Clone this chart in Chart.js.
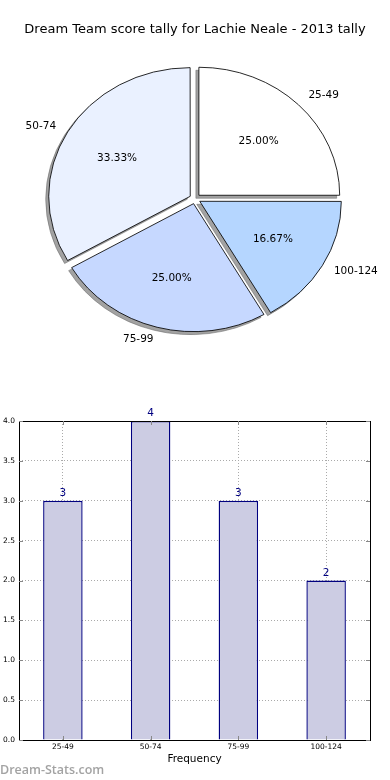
<!DOCTYPE html>
<html>
<head>
<meta charset="utf-8">
<script src="https://cdn.jsdelivr.net/npm/chart.js@4/dist/chart.umd.min.js"></script>
<style>
body{margin:0;background:#fff;width:390px;height:780px;overflow:hidden;position:relative;}
#pieBox{position:absolute;left:0;top:0;width:390px;height:400px;}
#barBox{position:absolute;left:0;top:400px;width:390px;height:380px;}
#mark{position:absolute;left:0;top:761px;font-family:'Open Sans',sans-serif;font-weight:600;font-size:12.5px;color:#a3a3a3;}
</style>
</head>
<body>
<div id="pieBox"><canvas id="pieChart" width="390" height="400"></canvas></div>
<div id="barBox"><canvas id="barChart" width="390" height="380"></canvas></div>
<div id="mark">Dream-Stats.com</div>
<script>
var chartTitle="Dream Team score tally for Lachie Neale - 2013 tally";
var categories=['25-49','50-74','75-99','100-124'];
var counts=[3,4,3,2];
var sliceColors=['#ffffff','#eaf1ff','#c6d8ff','#b5d6ff'];
var yTicks=[0,0.5,1,1.5,2,2.5,3,3.5,4];

var stretch=1.1;   // pie was drawn as an ellipse
var explode=5;     // px, chart.js divides arc offset by 4
var labelFont="10.5px 'DejaVu Sans'";

// matplotlib goes counter clockwise from 3 o'clock, chart.js clockwise -> reverse
var order=[3,2,1,0];
var total=counts.reduce(function(a,b){return a+b;},0);

function pieCenter(chart){
    var a=chart.getDatasetMeta(0).data[0];
    return {x:a.x,y:a.y};
}

var pieDecor={
    id:'pieDecor',
    beforeDatasetsDraw:function(chart){
        var ctx=chart.ctx, c=pieCenter(chart);
        // shadow pass
        ctx.save();
        ctx.translate(-3,3);
        ctx.translate(c.x,c.y);ctx.scale(stretch,1);ctx.translate(-c.x,-c.y);
        chart.getDatasetMeta(0).data.forEach(function(el){
            var o=el.options, bg=o.backgroundColor, bc=o.borderColor;
            o.backgroundColor='rgba(100,100,100,0.6)';
            o.borderColor='rgba(100,100,100,0.6)';
            el.draw(ctx);
            o.backgroundColor=bg;o.borderColor=bc;
        });
        ctx.restore();
        ctx.save();
        ctx.translate(c.x,c.y);ctx.scale(stretch,1);ctx.translate(-c.x,-c.y);
    },
    afterDatasetsDraw:function(chart){
        var ctx=chart.ctx;
        ctx.restore();
        ctx.save();
        ctx.font=labelFont;
        ctx.fillStyle='#000';
        ctx.textBaseline='middle';
        chart.getDatasetMeta(0).data.forEach(function(el,i){
            var p=el.getProps(['x','y','startAngle','endAngle','outerRadius']);
            var mid=(p.startAngle+p.endAngle)/2;
            var cs=Math.cos(mid), sn=Math.sin(mid);
            var cx=p.x+cs*explode*stretch, cy=p.y+sn*explode;
            var k=order[i];
            ctx.textAlign=cs>0?'left':'right';
            ctx.fillText(categories[k],cx+cs*1.1*p.outerRadius*stretch,cy+sn*1.1*p.outerRadius);
            ctx.textAlign='center';
            ctx.fillText((counts[k]/total*100).toFixed(2)+'%',cx+cs*0.6*p.outerRadius*stretch,cy+sn*0.6*p.outerRadius);
        });
        ctx.restore();
    }
};

new Chart(document.getElementById('pieChart'),{
    type:'pie',
    data:{
        labels:order.map(function(k){return categories[k];}),
        datasets:[{
            data:order.map(function(k){return counts[k];}),
            backgroundColor:order.map(function(k){return sliceColors[k];}),
            borderColor:'#000',
            borderWidth:0.8,
            offset:explode*4
        }]
    },
    options:{
        responsive:false,
        animation:false,
        events:[],
        rotation:90,
        radius:128,
        layout:{padding:{top:0,bottom:50,left:0,right:0}},
        plugins:{
            legend:{display:false},
            tooltip:{enabled:false},
            title:{display:true,text:chartTitle,color:'#000',
                font:{family:'DejaVu Sans',size:13,weight:'normal'},
                padding:{top:22,bottom:10}}
        }
    },
    plugins:[pieDecor]
});

var barDecor={
    id:'barDecor',
    afterDatasetsDraw:function(chart){
        var ctx=chart.ctx;
        ctx.save();
        ctx.font="10.5px 'DejaVu Sans'";
        ctx.fillStyle='#000080';
        ctx.textAlign='center';
        ctx.textBaseline='bottom';
        chart.getDatasetMeta(0).data.forEach(function(el,i){
            ctx.fillText(String(counts[i]),el.x,el.y-2);
        });
        ctx.restore();
    },
    afterDraw:function(chart){
        var ctx=chart.ctx, a=chart.chartArea, xs=chart.scales.x, ys=chart.scales.y;
        ctx.save();
        ctx.strokeStyle='#000';
        ctx.lineWidth=1;
        ctx.strokeRect(Math.round(a.left)+0.5,Math.round(a.top)+0.5,Math.round(a.right-a.left),Math.round(a.bottom-a.top));
        ctx.beginPath();
        yTicks.forEach(function(v){
            var y=Math.round(ys.getPixelForValue(v))+0.5;
            ctx.moveTo(a.left,y);ctx.lineTo(a.left+4,y);
            ctx.moveTo(a.right,y);ctx.lineTo(a.right-4,y);
        });
        categories.forEach(function(c,i){
            var x=Math.round(xs.getPixelForValue(i))+0.5;
            ctx.moveTo(x,a.bottom);ctx.lineTo(x,a.bottom-4);
            ctx.moveTo(x,a.top);ctx.lineTo(x,a.top+4);
        });
        ctx.strokeStyle='#888';
        ctx.stroke();
        ctx.restore();
    }
};

new Chart(document.getElementById('barChart'),{
    type:'bar',
    data:{
        labels:categories,
        datasets:[{
            data:counts,
            backgroundColor:'#ccccE3',
            borderColor:'#000080',
            borderWidth:1.4,
            borderSkipped:'bottom',
            barPercentage:0.45,
            categoryPercentage:1
        }]
    },
    options:{
        responsive:false,
        animation:false,
        events:[],
        layout:{padding:{top:21,right:20,left:0,bottom:0}},
        plugins:{legend:{display:false},tooltip:{enabled:false}},
        scales:{
            x:{
                offset:true,
                z:1,
                grid:{offset:false,color:'#aaa',lineWidth:1,drawTicks:false},
                border:{display:false,dash:[1,2]},
                ticks:{color:'#000',font:{family:'DejaVu Sans',size:7.5},padding:3},
                title:{display:true,text:'Frequency',color:'#000',
                    font:{family:'DejaVu Sans',size:10.5},padding:{top:3,bottom:14}},
                afterFit:function(s){s.height=40;}
            },
            y:{
                min:0,max:4,
                z:1,
                afterBuildTicks:function(s){s.ticks=yTicks.map(function(v){return {value:v};});},
                grid:{color:'#aaa',lineWidth:1,drawTicks:false},
                border:{display:false,dash:[1,2]},
                ticks:{color:'#000',font:{family:'DejaVu Sans',size:7.5},padding:4,
                    callback:function(v){return Number(v).toFixed(1);}},
                afterFit:function(s){s.width=19;}
            }
        }
    },
    plugins:[barDecor]
});
</script>
</body>
</html>
